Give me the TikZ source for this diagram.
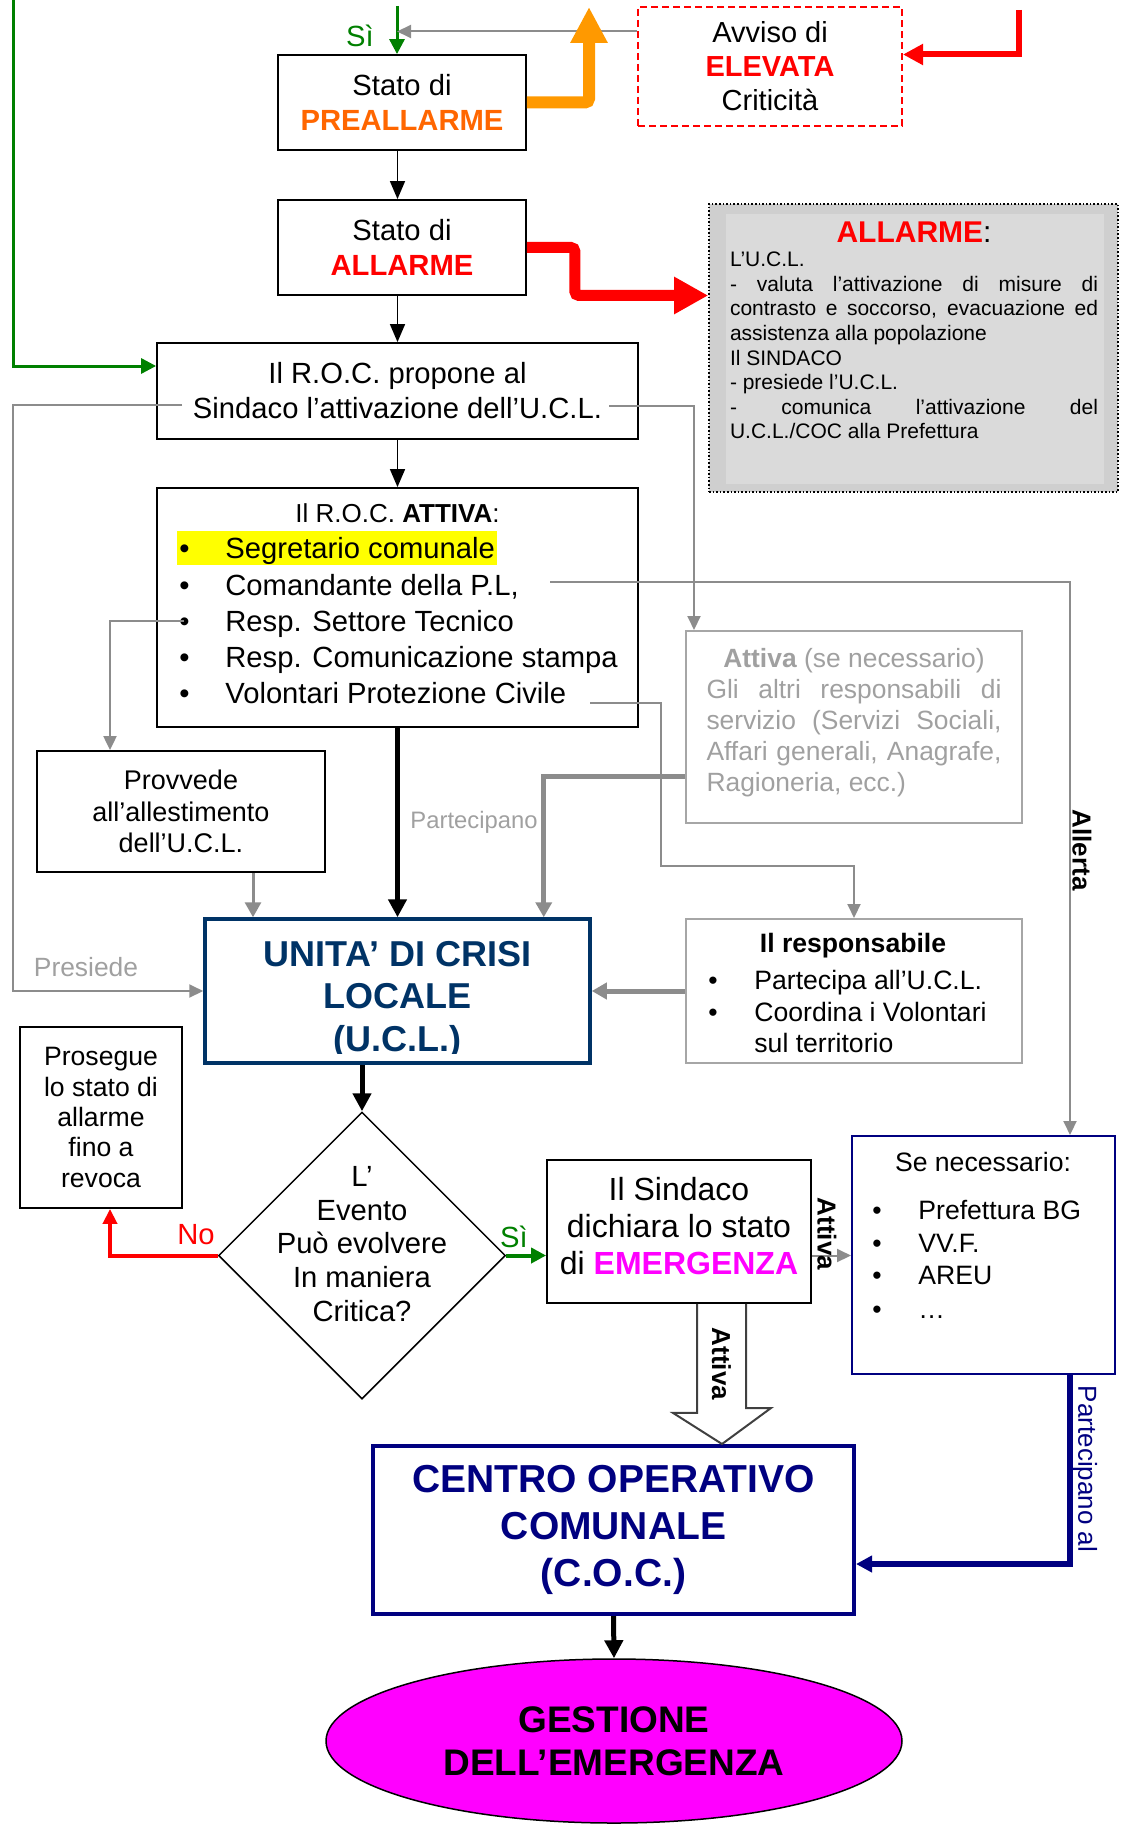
\documentclass[tikz,border=0pt]{standalone}
\usepackage{fontspec}
\setmainfont{Liberation Sans}
\usetikzlibrary{arrows.meta,shapes.geometric}

\definecolor{uclnavy}{RGB}{0,51,102}
\definecolor{cocnavy}{RGB}{0,0,128}
\definecolor{prealorange}{RGB}{255,102,0}
\definecolor{arroworange}{RGB}{255,153,0}
\definecolor{okgreen}{RGB}{0,128,0}
\definecolor{emmagenta}{RGB}{255,0,255}
\definecolor{hiyellow}{RGB}{255,255,0}
\definecolor{linegrey}{RGB}{140,140,140}
\definecolor{boxgrey}{RGB}{166,166,166}
\definecolor{txtgrey}{RGB}{160,160,160}
\definecolor{infoout}{RGB}{207,207,207}
\definecolor{infoin}{RGB}{218,218,218}
\definecolor{shaftgrey}{RGB}{64,64,64}

\tikzset{
  flowbox/.style={draw, line width=0.9pt, inner sep=0pt, align=center, font=\fontsize{14.6}{17.5}\selectfont},
  greybox/.style={draw=boxgrey, line width=1pt, inner sep=0pt},
  txt/.style={inner sep=0pt, align=center},
  itemline/.style={inner sep=0pt, anchor=base west, font=\fontsize{14.6}{17.5}\selectfont},
  smallitem/.style={itemline, font=\fontsize{13.3}{16}\selectfont},
  vlabel/.style={rotate=-90, inner sep=0pt, font=\bfseries\fontsize{13}{15}\selectfont},
  barrow/.style={line width=0.75pt, -{Triangle[length=9pt,width=7.5pt]}},
  bbold/.style={line width=2.5pt, -{Triangle[length=9pt,width=9pt]}},
  garrow/.style={draw=linegrey, line width=1pt, -{Triangle[length=7pt,width=6.5pt]}},
  gbold/.style={draw=linegrey, line width=2.5pt, -{Triangle[length=7.5pt,width=8pt]}},
  grarrow/.style={draw=okgreen, line width=1.5pt, -{Triangle[length=7.5pt,width=7.5pt]}},
  rarrow/.style={draw=red, line width=2pt, -{Triangle[length=7.5pt,width=7pt]}},
  navyarrow/.style={draw=cocnavy, line width=2.75pt, -{Triangle[length=8pt,width=8pt]}},
  bigred/.style={draw=red, line width=5.5pt, rounded corners=2pt, -{Triangle[length=17pt,width=17.5pt]}},
  bigorange/.style={draw=arroworange, line width=6pt, rounded corners=2pt, -{Triangle[length=18pt,width=17.5pt]}},
}

\begin{document}
\begin{tikzpicture}[x=0.5pt,y=0.5pt,yscale=-1]
\useasboundingbox (0,0) rectangle (1120,1829);

%Shape: Rectangle
\node[flowbox, minimum width=124pt, minimum height=47.5pt] (prea) at (402,102.5) {Stato di\\{\bfseries\color{prealorange}PREALLARME}};
%Shape: Rectangle
\node[flowbox, draw=red, line width=1pt, dash pattern=on 3.5pt off 2pt, minimum width=132pt, minimum height=59.5pt, font=\fontsize{14.5}{17}\selectfont] (avv) at (770,66.5) {Avviso di\\{\bfseries\color{red}ELEVATA}\\Criticità};
%Shape: Rectangle
\node[flowbox, minimum width=124pt, minimum height=47.5pt] (allr) at (402,247.5) {Stato di\\{\bfseries\color{red}ALLARME}};

%Shape: Rectangle (grey panel)
\node[draw, densely dotted, line width=0.8pt, fill=infoout, minimum width=204.5pt, minimum height=144pt, inner sep=0pt] (info) at (913.5,348) {};
\fill[infoin] ([xshift=9pt,yshift=5.5pt]info.north west) rectangle ([xshift=-7.5pt,yshift=-4.5pt]info.south east);
% Text Node
\node[txt, anchor=north, align=left, font=\fontsize{10.5}{12.3}\selectfont] (infotxt) at (914,221) {\makebox[184pt]{{\fontsize{15}{12.3}\selectfont{\bfseries\color{red}ALLARME}:}}\\
L’U.C.L.\\
\makebox[184pt][s]{- valuta l’attivazione di misure di}\\
\makebox[184pt][s]{contrasto e soccorso, evacuazione ed}\\
assistenza alla popolazione\\
Il SINDACO\\
- presiede l’U.C.L.\\
\makebox[184pt][s]{- comunica l’attivazione del}\\
U.C.L./COC alla Prefettura};

%Shape: Rectangle
\node[flowbox, minimum width=240.5pt, minimum height=48pt] (roc) at (397.5,391) {Il R.O.C. propone al\\Sindaco l’attivazione dell’U.C.L.};

%Shape: Rectangle
\node[flowbox, minimum width=240.5pt, minimum height=119.5pt] (att) at (397.5,607.5) {};
% Text Node
\node[txt, font=\fontsize{13}{15}\selectfont] (atthead) at (397.5,513) {Il R.O.C. \textbf{ATTIVA}:};
\node[itemline, fill=hiyellow, inner xsep=1pt, inner ysep=2.5pt, text height=11.25pt, text depth=0.75pt] (seg) at (177,558.8) {\makebox[23pt][l]{\textbullet}Segretario comunale};
\node[itemline] (com) at (179,595) {\makebox[23pt][l]{\textbullet}Comandante della P.L,};
\node[itemline] (tec) at (179,631.2) {\makebox[23pt][l]{\textbullet}Resp. Settore Tecnico};
\node[itemline] (stam) at (179,667.3) {\makebox[23pt][l]{\textbullet}Resp. Comunicazione stampa};
\node[itemline] (vol) at (179,703.5) {\makebox[23pt][l]{\textbullet}Volontari Protezione Civile};

%Shape: Rectangle
\node[greybox, minimum width=168pt, minimum height=96pt] (opt) at (854,727) {};
% Text Node
\node[txt, anchor=north, align=left, text=txtgrey, font=\fontsize{13.2}{15.5}\selectfont] (opttxt) at (854,648) {\makebox[147.5pt]{\textbf{Attiva} (se necessario)}\\
\makebox[147.5pt][s]{Gli altri responsabili di}\\
\makebox[147.5pt][s]{servizio (Servizi Sociali,}\\
\makebox[147.5pt][s]{Affari generali, Anagrafe,}\\
Ragioneria, ecc.)};

%Shape: Rectangle
\node[flowbox, minimum width=144pt, minimum height=60.5pt, font=\fontsize{13.5}{15.7}\selectfont] (prov) at (181,811.5) {Provvede\\all’allestimento\\dell’U.C.L.};

%Shape: Rectangle
\node[draw=uclnavy, line width=1.75pt, minimum width=192.5pt, minimum height=72pt, inner sep=0pt] (ucl) at (397.5,991) {};
\begin{scope}
\clip (ucl.north west) rectangle ([yshift=-5.5pt]ucl.south east);
\node[txt, text=uclnavy, font=\bfseries\fontsize{18}{21.3}\selectfont] (ucltxt) at (397.5,1000) {UNITA’ DI CRISI\\LOCALE\\(U.C.L.)};
\end{scope}

%Shape: Rectangle
\node[greybox, minimum width=168pt, minimum height=72pt] (resp) at (854,991) {};
% Text Node
\node[txt, font=\bfseries\fontsize{13.3}{16}\selectfont] (resphead) at (853,946) {Il responsabile};
\node[smallitem] (part) at (708,989.5) {\makebox[23pt][l]{\textbullet}Partecipa all’U.C.L.};
\node[smallitem] (coord) at (708,1021) {\makebox[23pt][l]{\textbullet}Coordina i Volontari};
\node[smallitem] (terr) at (708,1052.5) {\hspace*{23pt}sul territorio};

%Shape: Rectangle
\node[flowbox, minimum width=81pt, minimum height=90.5pt, font=\fontsize{13.3}{15.15}\selectfont] (pros) at (101,1117.5) {Prosegue\\lo stato di\\allarme\\fino a\\revoca};

%Shape: Diamond
\node[draw, diamond, line width=0.75pt, minimum width=143.5pt, minimum height=143.5pt, inner sep=0pt] (dia) at (362,1255.5) {};
% Text Node
\node[txt, font=\fontsize{14.6}{16.9}\selectfont] (diatxt) at (362,1244) {L’\\Evento\\Può evolvere\\In maniera\\Critica?};

%Shape: Rectangle
\node[flowbox, minimum width=132pt, minimum height=71.5pt, font=\fontsize{16}{18.4}\selectfont] (sind) at (679,1231.5) {};
% Text Node
\node[txt, font=\fontsize{16}{18.4}\selectfont] (sindtxt) at (679,1226) {Il Sindaco\\dichiara lo stato\\di {\bfseries\color{emmagenta}EMERGENZA}};

%Shape: Rectangle
\node[draw=cocnavy, line width=1pt, minimum width=131.5pt, minimum height=119pt, inner sep=0pt] (senec) at (983.5,1255) {};
% Text Node
\node[txt, font=\fontsize{13.3}{16}\selectfont] (senechead) at (983,1162) {Se necessario:};
\node[smallitem] (pref) at (872,1219.5) {\makebox[23pt][l]{\textbullet}Prefettura BG};
\node[smallitem] (vvf) at (872,1252) {\makebox[23pt][l]{\textbullet}VV.F.};
\node[smallitem] (areu) at (872,1284.5) {\makebox[23pt][l]{\textbullet}AREU};
\node[smallitem] (etc) at (872,1318) {\makebox[23pt][l]{\textbullet}…};

%Shape: Rectangle
\node[draw=cocnavy, line width=2pt, minimum width=240.5pt, minimum height=84pt, inner sep=0pt, align=center, text=cocnavy, font=\bfseries\fontsize{19.5}{23.3}\selectfont] (coc) at (613.5,1530) {CENTRO OPERATIVO\\COMUNALE\\(C.O.C.)};

%Shape: Ellipse
\node[draw, ellipse, fill=emmagenta, line width=0.75pt, minimum width=288pt, minimum height=82pt, inner sep=0pt, align=center, font=\bfseries\fontsize{18.5}{21.5}\selectfont] (ges) at (614,1741) {GESTIONE\\DELL’EMERGENZA};

% free ends
\coordinate (grnTop) at (13,0);
\coordinate (siTop) at (397,6);
\coordinate (orgTip) at (589,7);
\coordinate (redTop) at (1019,10);
\coordinate (rocL) at (182,405);
\coordinate (rocR) at (609,406);
\coordinate (comOut) at (550,582);
\coordinate (tecOut) at (184,621);
\coordinate (volOut) at (590,703);

%Straight Lines
\draw[grarrow] (siTop) -- (siTop |- prea.north);
\draw[garrow] ([yshift=-17.5pt]avv.west) -- ([yshift=-17.5pt]avv.west -| siTop);
\draw[bigorange] (prea.east) -| (orgTip);
\draw[rarrow, line width=3pt, -{Triangle[length=10pt,width=10pt]}] (redTop) |- ([yshift=-6pt]avv.east);
\draw[barrow] (prea.south -| roc.north) -- (allr.north -| roc.north);
\draw[bigred] (allr.east) -- ++(48,0) |- ([yshift=-26.25pt]info.west);
\draw[barrow] (allr.south -| roc.north) -- (roc.north);
\draw[grarrow] (grnTop) |- ([yshift=-12.5pt]roc.west);
\draw[barrow] (roc.south) -- (att.north);
\draw[garrow] (rocL) -- ++(-169,0) |- (ucl.west);
\draw[garrow] (rocR) -| ([xshift=4.5pt]opt.north west);
\draw[garrow] (comOut) -| ([xshift=43.25pt]senec.north);
\draw[garrow] (tecOut) -| ([xshift=-35.5pt]prov.north);
\draw[garrow] (volOut) -- ++(71,0) -- ++(0,163) -| (resp.north);
\draw[gbold] ([yshift=24.5pt]opt.west) -| ([xshift=-24pt]ucl.north east);
\draw[gbold, line width=1.5pt] ([xshift=36pt]prov.south) -- ([xshift=36pt]prov.south |- ucl.north);
\draw[bbold] (att.south) -- (ucl.north);
\draw[gbold] (resp.west) -- (ucl.east);
\draw[bbold] (ucl.south -| dia.north) -- (dia.north);
\draw[rarrow] (dia.west) -| ([xshift=4.5pt]pros.south);
\draw[grarrow, line width=2pt] (dia.east) -- (dia.east -| sind.west);
\draw[garrow] (dia.east -| sind.east) -- (dia.east -| senec.west);
%Down Arrow (hollow)
\draw[draw=shaftgrey, line width=1pt] ([xshift=9pt]sind.south) -- ++(0,109) -- ++(-24,0) -- ([xshift=21.5pt]sind.south |- coc.north) -- ++(49,-36) -- ++(-25,0) -- ([xshift=33.5pt]sind.south);
\draw[navyarrow] ([xshift=43.25pt]senec.south) |- ([yshift=17pt]coc.east);
\draw[bbold] (coc.south) -- (ges.north);

% Text Node
\node[txt, text=okgreen, font=\fontsize{14.6}{17}\selectfont] (siA) at (360,36) {Sì};
\node[txt, text=txtgrey, font=\fontsize{13.2}{15}\selectfont] (presLbl) at (86,967) {Presiede};
\node[txt, text=txtgrey, font=\fontsize{11.9}{14}\selectfont] (partLbl) at (474,822) {Partecipano};
\node[vlabel] (allertaLbl) at (1082,850) {Allerta};
\node[vlabel] (attivaA) at (827,1234) {Attiva};
\node[vlabel] (attivaB) at (721.5,1364) {Attiva};
\node[txt, rotate=-90, text=cocnavy, font=\fontsize{13}{15}\selectfont] (partAl) at (1085,1469) {Partecipano al};
\node[txt, text=red, font=\fontsize{14.6}{17}\selectfont] (noLbl) at (196,1235) {No};
\node[txt, text=okgreen, font=\fontsize{14.6}{17}\selectfont] (siB) at (514,1237) {Sì};

\end{tikzpicture}
\end{document}
